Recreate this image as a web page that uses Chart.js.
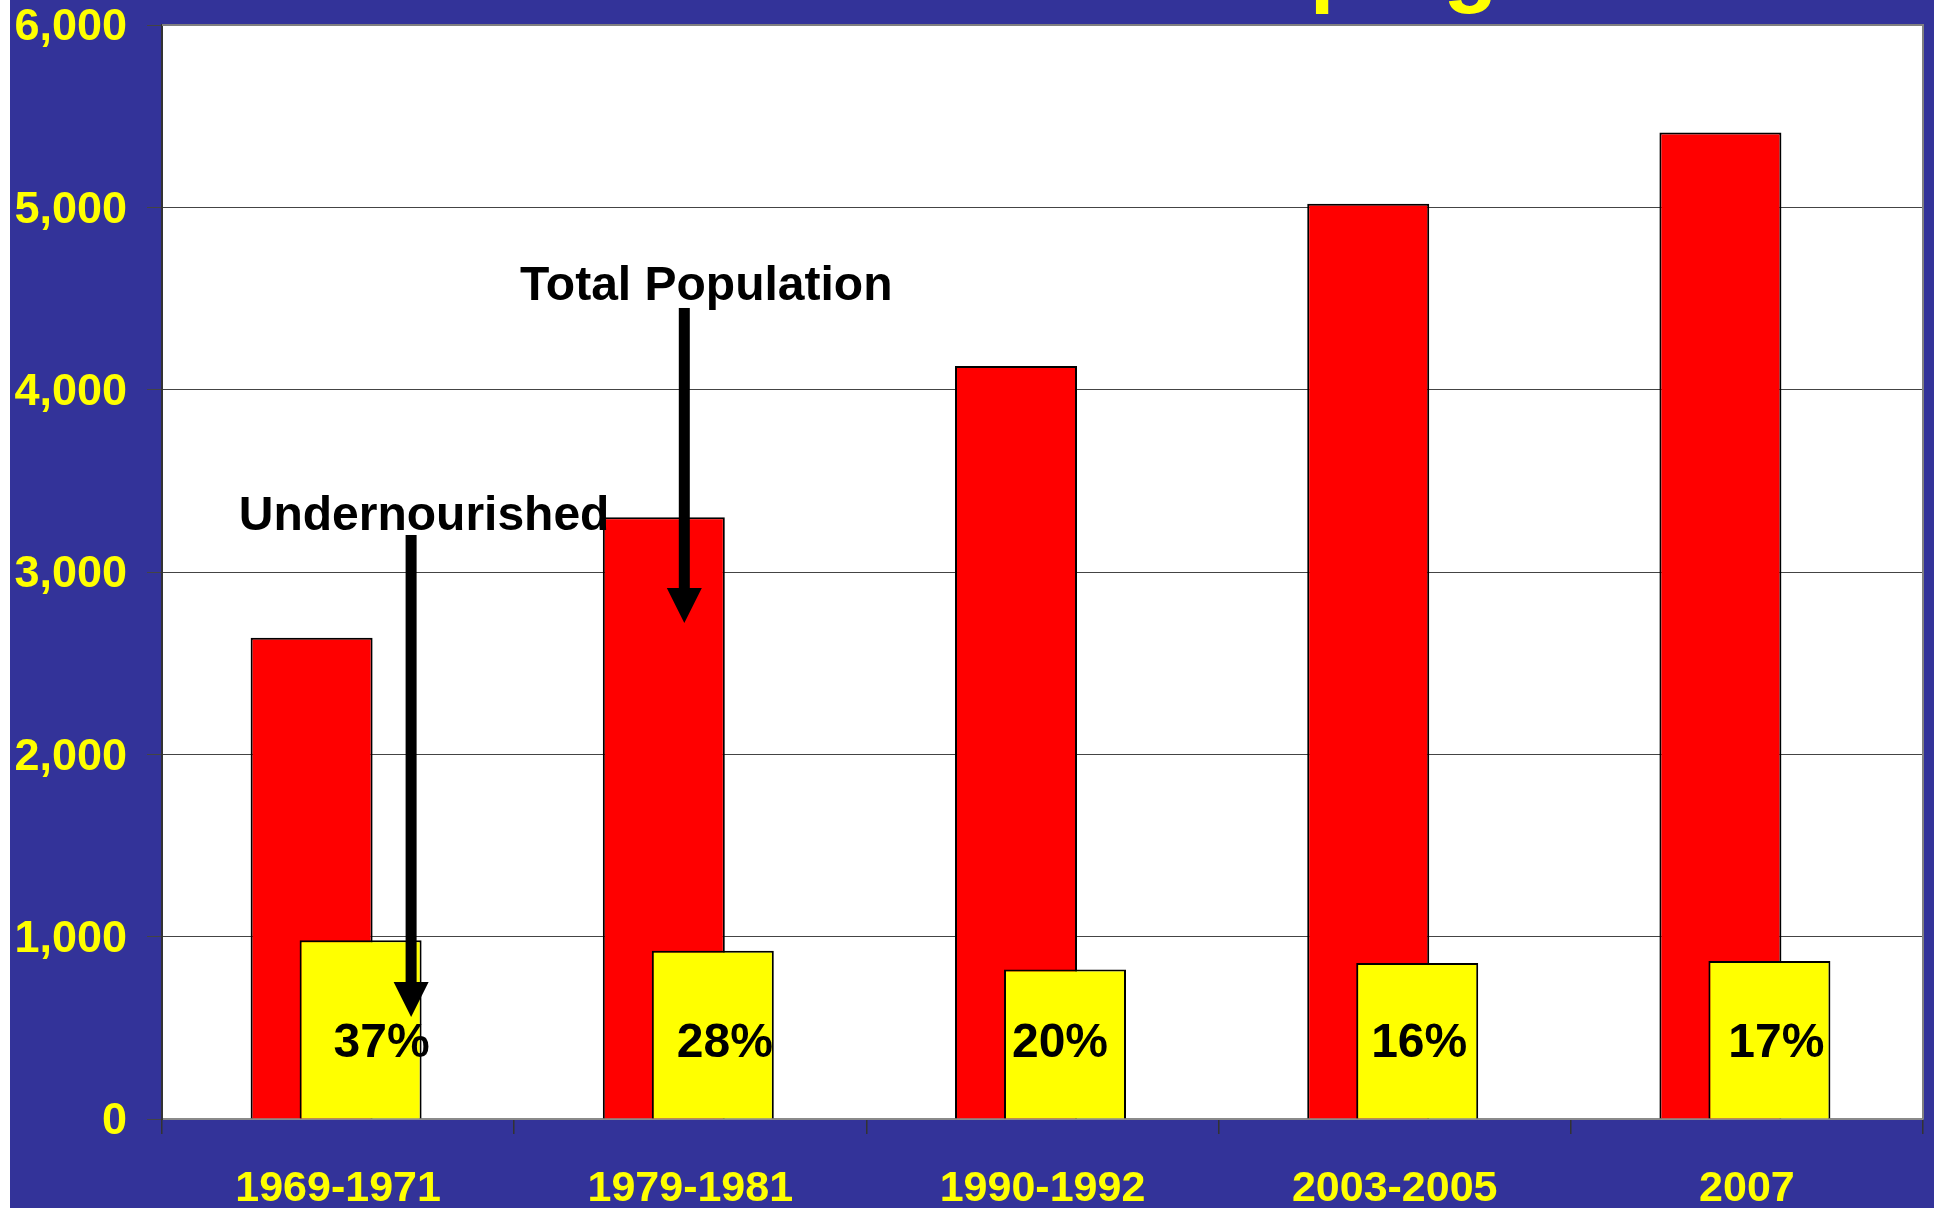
<!DOCTYPE html>
<html><head><meta charset="utf-8">
<script src="https://cdn.jsdelivr.net/npm/chart.js@4/dist/chart.umd.min.js"></script>
<style>
html,body{margin:0;padding:0;background:#fff;overflow:hidden;}
#wrap{position:absolute;left:10px;top:0;width:1924px;height:1208px;}
</style></head><body>
<div id="wrap"><canvas id="c" width="1924" height="1208"></canvas></div>
<script>
// ---- data ----
const categories = ['1969-1971', '1979-1981', '1990-1992', '2003-2005', '2007'];
const totalPopulation = [2640, 3300, 4130, 5020, 5410];
const undernourished = [980, 923, 820, 856, 867];
const shareLabels = ['37%', '28%', '20%', '16%', '17%'];
const yTickValues = [0, 1000, 2000, 3000, 4000, 5000, 6000];
const titleText = 'Undernourishment in the Developing World';

// ---- styling / layout ----
const FONT = '"Liberation Sans", Arial, Helvetica, sans-serif';
const BLUE = '#333399';
const YELLOW = '#FFFF00';
const RED = '#FF0000';
const redShift = -0.0752;    // fraction of a category width
const yellowShift = 0.0639;
const barFraction = 0.3464;  // bar width as fraction of a category width
const pctLabelDx = [21, 12, -5, 2, 7];
const annotations = [
  { text: 'Total Population', cat: 1, dx: 16, baseValue: 4492,
    arrow: { cat: 1, dx: -6, from: 4448, to: 2720 } },
  { text: 'Undernourished', cat: 0, dx: 86, baseValue: 3230,
    arrow: { cat: 0, dx: 73, from: 3203, to: 559 } }
];

const toPoints = arr => arr.map((v, i) => ({ x: i, y: v }));
const indexTicks = categories.map((_, i) => ({ value: i }));

// invisible (zero-height) index axes, shifted by a fraction of a category
function shiftedIndexAxis(shift) {
  return {
    type: 'linear',
    position: 'bottom',
    display: true,
    offset: false,
    grace: 0,
    min: -0.5 - shift,
    max: categories.length - 0.5 - shift,
    afterBuildTicks(s) { s.ticks = indexTicks.map(t => ({ value: t.value })); },
    afterFit(s) { s.height = 0; s.paddingLeft = 0; s.paddingRight = 0; s.paddingTop = 0; s.paddingBottom = 0; },
    grid: { display: false, drawTicks: false, offset: false },
    border: { display: false },
    ticks: { display: false, padding: 0 }
  };
}

const bgPlugin = {
  id: 'bg',
  beforeDraw(chart) {
    const { ctx, chartArea: a } = chart;
    ctx.save();
    ctx.fillStyle = BLUE;
    ctx.fillRect(0, 0, chart.width, chart.height);
    ctx.fillStyle = '#FFFFFF';
    ctx.fillRect(a.left, a.top, a.right - a.left, a.bottom - a.top);
    ctx.restore();
  }
};

function drawArrow(ctx, x, y0, y1) {
  const head = 35, half = 17.5, shaft = 11;
  ctx.fillStyle = '#000';
  ctx.fillRect(x - shaft / 2, y0, shaft, (y1 - head) - y0 + 1);
  ctx.beginPath();
  ctx.moveTo(x - half, y1 - head);
  ctx.lineTo(x + half, y1 - head);
  ctx.lineTo(x, y1);
  ctx.closePath();
  ctx.fill();
}

const overlayPlugin = {
  id: 'overlay',
  afterDatasetsDraw(chart) {
    const { ctx, chartArea: a } = chart;
    const xs = chart.scales.x, ys = chart.scales.y;
    ctx.save();
    // plot frame (top / right)
    ctx.strokeStyle = '#808080';
    ctx.lineWidth = 2;
    ctx.beginPath();
    ctx.moveTo(a.left, a.top);
    ctx.lineTo(a.right, a.top);
    ctx.lineTo(a.right, a.bottom);
    ctx.stroke();

    // share labels inside yellow bars
    const meta = chart.getDatasetMeta(0);
    ctx.fillStyle = '#000';
    ctx.font = 'bold 48px ' + FONT;
    ctx.textAlign = 'center';
    ctx.textBaseline = 'alphabetic';
    meta.data.forEach((el, i) => {
      ctx.fillText(shareLabels[i], el.x + pctLabelDx[i], ys.getPixelForValue(0) - 62);
    });

    // annotations
    annotations.forEach(an => {
      const ar = an.arrow;
      drawArrow(ctx, xs.getPixelForValue(ar.cat) + ar.dx,
        ys.getPixelForValue(ar.from), ys.getPixelForValue(ar.to));
    });
    annotations.forEach(an => {
      ctx.fillStyle = '#000';
      ctx.font = 'bold 48px ' + FONT;
      ctx.textAlign = 'center';
      ctx.fillText(an.text, xs.getPixelForValue(an.cat) + an.dx, ys.getPixelForValue(an.baseValue));
    });

    // title (mostly above the visible area, as in the source slide)
    ctx.fillStyle = YELLOW;
    ctx.font = 'bold 89px ' + FONT;
    ctx.textAlign = 'left';
    const prefix = 'Undernourishment in the ';
    const w = ctx.measureText(prefix).width;
    ctx.fillText(titleText, 1008 - w, -5);
    ctx.restore();
  }
};

new Chart(document.getElementById('c'), {
  type: 'bar',
  data: {
    labels: categories,
    datasets: [
      { label: 'Undernourished', data: toPoints(undernourished), xAxisID: 'xy', grouped: false,
        backgroundColor: YELLOW, borderColor: '#000', borderWidth: 2 },
      { label: 'Total Population', data: toPoints(totalPopulation), xAxisID: 'xr', grouped: false,
        backgroundColor: RED, borderColor: '#000', borderWidth: 2 }
    ]
  },
  options: {
    responsive: false,
    animation: false,
    devicePixelRatio: 1,
    categoryPercentage: 1,
    barPercentage: barFraction,
    layout: { padding: { top: 25, right: 11, left: 0, bottom: 0 } },
    plugins: { legend: { display: false }, tooltip: { enabled: false }, title: { display: false } },
    scales: {
      x: {
        type: 'category',
        labels: categories,
        position: 'bottom',
        offset: true,
        afterFit(s) { s.height = 89; s.paddingLeft = 0; s.paddingRight = 0; },
        grid: { offset: true, drawOnChartArea: false, drawTicks: true, tickLength: 15, color: '#333', lineWidth: 1.5 },
        border: { display: true, color: '#8a8a8a', width: 2 },
        ticks: { color: YELLOW, font: { family: FONT, size: 43, weight: 'bold' }, padding: 29, maxRotation: 0, autoSkip: false }
      },
      xr: shiftedIndexAxis(redShift),
      xy: shiftedIndexAxis(yellowShift),
      y: {
        type: 'linear',
        min: 0,
        max: 6000,
        afterFit(s) { s.width = 152; s.paddingTop = 0; s.paddingBottom = 0; },
        afterBuildTicks(s) { s.ticks = yTickValues.map(v => ({ value: v })); },
        grid: { color: '#444', lineWidth: 1, tickLength: 15, drawTicks: true },
        border: { display: true, color: '#333', width: 2 },
        ticks: {
          color: YELLOW,
          padding: 20,
          labelOffset: 3,
          font: { family: FONT, size: 45, weight: 'bold', lineHeight: 1 },
          callback: v => Number(v).toLocaleString('en-US')
        }
      }
    }
  },
  plugins: [bgPlugin, overlayPlugin]
});
</script>
</body></html>
